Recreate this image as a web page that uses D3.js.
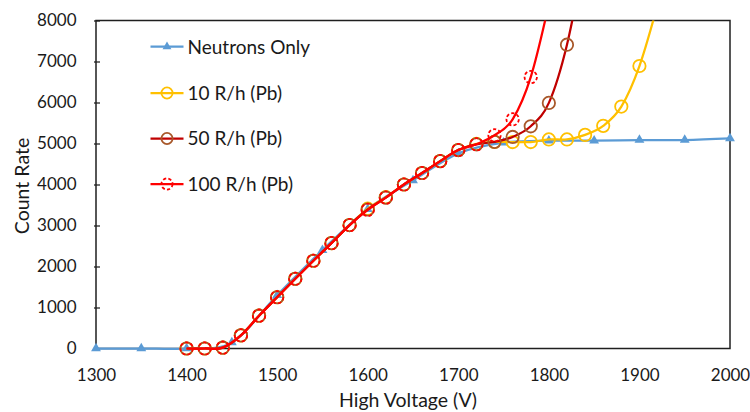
<!DOCTYPE html>
<html>
<head>
<meta charset="utf-8">
<script src="https://cdn.jsdelivr.net/npm/d3@7"></script>
<style>
  html, body { margin: 0; padding: 0; background: #fff; }
  svg { display: block; font-family: Lato, "Open Sans", sans-serif; }
</style>
</head>
<body>
<svg id="chart" width="750" height="412"></svg>
<script>
// Detector count rate versus applied high voltage
const xTicks = [1300, 1400, 1500, 1600, 1700, 1800, 1900, 2000];
const yTicks = [0, 1000, 2000, 3000, 4000, 5000, 6000, 7000, 8000];

const neutronVoltages = [1300, 1350, 1400, 1450, 1500, 1550, 1600, 1650, 1700, 1750, 1800, 1850, 1900, 1950, 2000];
const neutronCounts   = [0, 0, 0, 150, 1300, 2400, 3400, 4100, 4760, 5020, 5070, 5070, 5085, 5085, 5125];

const voltages10 = [1400, 1420, 1440, 1460, 1480, 1500, 1520, 1540, 1560, 1580, 1600, 1620, 1640, 1660, 1680, 1700, 1720, 1740, 1760, 1780, 1800, 1820, 1840, 1860, 1880, 1900, 1920];
const counts10   = [0, 0, 20, 320, 800, 1250, 1700, 2140, 2570, 3010, 3410, 3690, 4000, 4280, 4570, 4840, 4990, 5040, 5035, 5035, 5100, 5100, 5210, 5430, 5900, 6890, 8380];

const voltages50 = [1400, 1420, 1440, 1460, 1480, 1500, 1520, 1540, 1560, 1580, 1600, 1620, 1640, 1660, 1680, 1700, 1720, 1740, 1760, 1780, 1800, 1820, 1840];
const counts50   = [0, 0, 20, 320, 800, 1250, 1700, 2140, 2570, 3010, 3390, 3680, 4000, 4280, 4570, 4840, 4980, 5040, 5160, 5420, 5990, 7410, 9640];

const voltages100 = [1400, 1420, 1440, 1460, 1480, 1500, 1520, 1540, 1560, 1580, 1600, 1620, 1640, 1660, 1680, 1700, 1720, 1740, 1760, 1780, 1800];
const counts100   = [0, 0, 20, 320, 800, 1250, 1700, 2140, 2570, 3010, 3380, 3680, 4000, 4280, 4570, 4840, 4980, 5200, 5590, 6620, 8400];

const seriesNames = ["Neutrons Only", "10 R/h (Pb)", "50 R/h (Pb)", "100 R/h (Pb)"];

const zip = (xs, ys) => xs.map((v, i) => ({ v, c: ys[i] }));

const series = [
  { name: seriesNames[0], data: zip(neutronVoltages, neutronCounts), line: "#5B9BD5", marker: "triangle", mColor: "#5B9BD5", width: 2.25 },
  { name: seriesNames[1], data: zip(voltages10, counts10), line: "#FFC000", marker: "circle", mColor: "#FFC000", width: 2.25 },
  { name: seriesNames[2], data: zip(voltages50, counts50), line: "#C00000", marker: "circle", mColor: "#A8582A", width: 2.25 },
  { name: seriesNames[3], data: zip(voltages100, counts100), line: "#FF0000", marker: "circle", mColor: "#FF0000", width: 2.25, dashed: true }
];

const plot = { left: 96, right: 730, top: 20.5, bottom: 348.5 };

const x = d3.scaleLinear().domain([1300, 2000]).range([plot.left, plot.right]);
const y = d3.scaleLinear().domain([0, 8000]).range([plot.bottom, plot.top]);

const svg = d3.select("#chart");
svg.append("rect").attr("width", 750).attr("height", 412).attr("fill", "#fff");

// Only the top edge clips: markers at zero and at 1300 V stay whole
svg.append("clipPath").attr("id", "plotClip")
  .append("rect").attr("x", 0).attr("y", plot.top).attr("width", 750).attr("height", 412 - plot.top);

// Plot frame
svg.append("rect")
  .attr("x", plot.left).attr("y", plot.top)
  .attr("width", plot.right - plot.left).attr("height", plot.bottom - plot.top)
  .attr("fill", "none").attr("stroke", "#1f1f1f").attr("stroke-width", 1.5);

// Y axis: inside ticks, labels on the left
const yAxis = svg.append("g")
  .attr("transform", `translate(${plot.left},0)`)
  .call(d3.axisLeft(y).tickValues(yTicks).tickSize(-4).tickPadding(19.5).tickFormat(d3.format("d")));
yAxis.select(".domain").remove();
yAxis.selectAll(".tick line").attr("stroke", "#1f1f1f").attr("stroke-width", 1.25).attr("x1", -2);
yAxis.selectAll("text").attr("font-size", 17).attr("fill", "#1a1a1a").attr("font-family", "Lato");

// X axis: labels only
const xAxis = svg.append("g")
  .attr("transform", `translate(0,${plot.bottom})`)
  .call(d3.axisBottom(x).tickValues(xTicks).tickSize(0).tickPadding(20.5).tickFormat(d3.format("d")));
xAxis.select(".domain").remove();
xAxis.selectAll("text").attr("font-size", 17).attr("fill", "#1a1a1a").attr("font-family", "Lato");

// Axis titles
svg.append("text")
  .attr("x", 408).attr("y", 406.5)
  .attr("text-anchor", "middle")
  .attr("font-size", 19.5).attr("fill", "#1a1a1a")
  .text("High Voltage (V)");

svg.append("text")
  .attr("transform", "translate(29,186) rotate(-90)")
  .attr("text-anchor", "middle")
  .attr("font-size", 19.5).attr("fill", "#1a1a1a")
  .text("Count Rate");

// Series lines and markers
const line = d3.line()
  .x(d => x(d.v))
  .y(d => y(d.c))
  .curve(d3.curveCardinal.tension(0));

function drawMarker(g, s, cx, cy, scale) {
  if (s.marker === "triangle") {
    g.append("path")
      .attr("d", d3.symbol().type(d3.symbolTriangle).size(42 * scale * scale)())
      .attr("transform", `translate(${cx},${cy})`)
      .attr("fill", s.mColor);
  } else {
    g.append("circle")
      .attr("cx", cx).attr("cy", cy).attr("r", 6.2 * scale)
      .attr("fill", "none")
      .attr("stroke", s.mColor)
      .attr("stroke-width", 1.8)
      .attr("stroke-dasharray", s.dashed ? "3.2,2.2" : null);
  }
}

const seriesLayer = svg.append("g").attr("clip-path", "url(#plotClip)");
series.forEach(s => {
  const g = seriesLayer.append("g");
  g.append("path")
    .datum(s.data)
    .attr("d", line)
    .attr("fill", "none")
    .attr("stroke", s.line)
    .attr("stroke-width", s.width)
    .attr("stroke-linejoin", "round");
  s.data.forEach(d => drawMarker(g, s, x(d.v), y(d.c), 1));
});

// Legend
const legendRows = [46.7, 93, 138.5, 184];
const legend = svg.append("g");
series.forEach((s, i) => {
  const ly = legendRows[i];
  legend.append("line")
    .attr("x1", 150.5).attr("x2", 183.5)
    .attr("y1", ly).attr("y2", ly)
    .attr("stroke", s.line).attr("stroke-width", s.width);
  drawMarker(legend, s, 167, ly, 0.9);
  legend.append("text")
    .attr("x", 187.5).attr("y", ly)
    .attr("dy", "0.36em")
    .attr("font-size", 19).attr("fill", "#1a1a1a")
    .text(s.name);
});
</script>
</body>
</html>
